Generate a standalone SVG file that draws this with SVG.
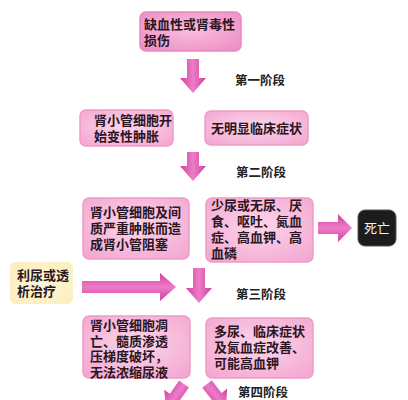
<svg xmlns="http://www.w3.org/2000/svg" width="408" height="400" viewBox="0 0 408 400">
<defs>
<radialGradient id="pk" cx="50%" cy="45%" r="70%">
<stop offset="0" stop-color="#fcd6ea"/>
<stop offset="1" stop-color="#f3a6d0"/>
</radialGradient>
<radialGradient id="pk1" cx="50%" cy="45%" r="70%">
<stop offset="0" stop-color="#f8c0de"/>
<stop offset="1" stop-color="#ee8cc4"/>
</radialGradient>
<radialGradient id="yl" cx="50%" cy="50%" r="70%">
<stop offset="0" stop-color="#fdf6d8"/>
<stop offset="1" stop-color="#f9eebc"/>
</radialGradient>
<linearGradient id="ar" x1="0" y1="0" x2="1" y2="0">
<stop offset="0" stop-color="#d23f9f"/>
<stop offset="0.5" stop-color="#ec7cc8"/>
<stop offset="1" stop-color="#d23f9f"/>
</linearGradient>
<linearGradient id="arh" x1="0" y1="0" x2="0" y2="1">
<stop offset="0" stop-color="#d23f9f"/>
<stop offset="0.5" stop-color="#ec7cc8"/>
<stop offset="1" stop-color="#d23f9f"/>
</linearGradient>
</defs>
<style>
.box{fill:url(#pk);stroke:#f09ac6;stroke-width:1.5}
.t{font-family:"Liberation Sans","Noto Sans CJK SC","Noto Sans CJK JP",sans-serif;font-size:13px;font-weight:bold;fill:#2a1522}
.lbl{font-family:"Liberation Sans","Noto Sans CJK SC","Noto Sans CJK JP",sans-serif;font-size:12.5px;font-weight:bold;fill:#222}
.arv{fill:url(#ar)}
.arh{fill:url(#arh)}
</style>
<rect width="408" height="400" fill="#ffffff"/>

<g id="n1">
<rect x="140" y="12" width="101" height="39" rx="6" fill="url(#pk1)" stroke="#ea88bf" stroke-width="1.5"/>
<text class="t" x="144" y="29">缺血性或肾毒性</text>
<text class="t" x="144" y="45">损伤</text>
</g>

<g id="n2a">
<rect class="box" x="80" y="110" width="93" height="36" rx="6"/>
<text class="t" x="94" y="125">肾小管细胞开</text>
<text class="t" x="94" y="141">始变性肿胀</text>
</g>
<g id="n2b">
<rect class="box" x="205" y="111" width="103" height="34" rx="6"/>
<text class="t" x="211" y="133">无明显临床症状</text>
</g>

<g id="n3a">
<rect class="box" x="83" y="198" width="106" height="61" rx="6"/>
<text class="t" x="90" y="217">肾小管细胞及间</text>
<text class="t" x="90" y="233">质严重肿胀而造</text>
<text class="t" x="90" y="249">成肾小管阻塞</text>
</g>
<g id="n3b">
<rect class="box" x="206" y="198" width="107" height="64" rx="6"/>
<text class="t" x="211" y="210">少尿或无尿、厌</text>
<text class="t" x="211" y="226">食、呕吐、氮血</text>
<text class="t" x="211" y="242">症、高血钾、高</text>
<text class="t" x="211" y="258">血磷</text>
</g>
<g id="death">
<rect x="358" y="210" width="38" height="36" rx="7" fill="#1c1c1c" stroke="#555" stroke-width="1"/>
<text class="t" x="377" y="233" text-anchor="middle" style="fill:#f2f2f2;font-weight:normal">死亡</text>
</g>

<g id="treat">
<rect x="10" y="262" width="63" height="42" rx="6" fill="url(#yl)"/>
<text class="t" x="17" y="280">利尿或透</text>
<text class="t" x="17" y="296">析治疗</text>
</g>

<g id="n4a">
<rect class="box" x="83" y="316" width="107" height="62" rx="6"/>
<text class="t" x="90" y="330">肾小管细胞凋</text>
<text class="t" x="90" y="345.5">亡、髓质渗透</text>
<text class="t" x="90" y="361">压梯度破坏，</text>
<text class="t" x="90" y="376.5">无法浓缩尿液</text>
</g>
<g id="n4b">
<rect class="box" x="206" y="318" width="107" height="60" rx="6"/>
<text class="t" x="214" y="336">多尿、临床症状</text>
<text class="t" x="214" y="352">及氮血症改善、</text>
<text class="t" x="214" y="368">可能高血钾</text>
</g>

<g id="connectors">
<path class="arv" d="M187,59 H199 V78 H206 L193,93 L180,78 H187 Z"/>
<path class="arv" d="M187,152 H199 V166 H206 L193,181 L180,166 H187 Z"/>
<path class="arv" d="M193,268 H205 V288 H212 L199,303 L186,288 H193 Z"/>
<path class="arh" d="M318,222 V234 H338 V242 L352,228 L338,214 V222 Z"/>
<path class="arh" d="M82,281 V293 H160 V301 L176,287 L160,273 V281 Z"/>
<path class="arv" transform="rotate(35 184 384)" d="M178,384 H190 V400 H197 L184,415 L171,400 H178 Z"/>
<path class="arv" transform="rotate(-38 207 384)" d="M201,384 H213 V400 H220 L207,415 L194,400 H201 Z"/>
<text class="lbl" x="235" y="85">第一阶段</text>
<text class="lbl" x="236" y="177">第二阶段</text>
<text class="lbl" x="236" y="299">第三阶段</text>
<text class="lbl" x="238" y="396.5">第四阶段</text>
</g>
</svg>
